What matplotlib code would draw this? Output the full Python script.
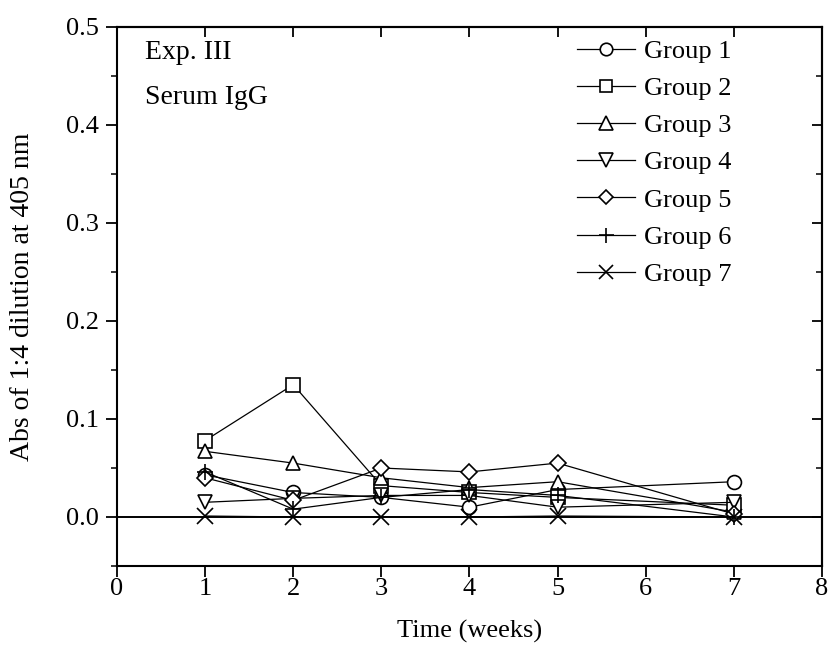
import matplotlib.pyplot as plt
import numpy as np

plt.rcParams['font.family'] = ['Liberation Serif', 'DejaVu Serif']

weeks = [1, 2, 3, 4, 5, 7]
group1 = [0.043, 0.025, 0.020, 0.010, 0.028, 0.036]
group2 = [0.078, 0.135, 0.032, 0.025, 0.020, 0.012]
group3 = [0.067, 0.055, 0.040, 0.030, 0.036, 0.005]
group4 = [0.015, 0.019, 0.022, 0.022, 0.010, 0.015]
group5 = [0.040, 0.017, 0.050, 0.046, 0.055, 0.003]
group6 = [0.046, 0.008, 0.020, 0.028, 0.022, 0.000]
group7 = [0.001, 0.000, 0.000, 0.000, 0.001, 0.000]

names = ['Group 1', 'Group 2', 'Group 3', 'Group 4', 'Group 5', 'Group 6', 'Group 7']
markers = ['o', 's', '^', 'v', 'D', '+', 'x']
sizes = [10, 9.5, 10.5, 10.5, 8, 12, 11]

fig = plt.figure(figsize=(8.29, 6.49), dpi=100)
ax = fig.add_axes([0.1411, 0.1279, 0.8504, 0.8305])

for vals, name, m, ms in zip([group1, group2, group3, group4, group5, group6, group7],
                             names, markers, sizes):
    ax.plot(weeks, vals, color='black', lw=0.9, marker=m, ms=ms,
            mfc='white', mec='black', mew=1.2, label=name)

ax.axhline(0, color='black', lw=1.4, zorder=0)

ax.set_xlim(0, 8)
ax.set_ylim(-0.05, 0.5)
ax.set_xticks(range(0, 9))
ax.set_yticks([0.0, 0.1, 0.2, 0.3, 0.4, 0.5])
ax.set_yticklabels(['0.0', '0.1', '0.2', '0.3', '0.4', '0.5'])
ax.set_yticks(np.arange(-0.05, 0.5, 0.1), minor=True)

ax.tick_params(axis='both', which='major', labelsize=19, direction='out', length=8, width=1.3,
               top=False, right=False)
ax.tick_params(axis='x', which='major', pad=1)
ax.tick_params(axis='y', which='major', pad=5)
ax.tick_params(axis='y', which='minor', direction='out', length=4, width=1.1)
ax.tick_params(axis='x', which='minor', bottom=False)

# inner ticks on the top and right spines
sec_x = ax.secondary_xaxis('top')
sec_x.set_xticks(range(1, 8))
sec_x.tick_params(direction='in', length=7, width=1.3, labeltop=False)
sec_y = ax.secondary_yaxis('right')
sec_y.set_yticks([0.0, 0.1, 0.2, 0.3, 0.4])
sec_y.set_yticks(np.arange(-0.05, 0.5, 0.1), minor=True)
sec_y.tick_params(which='major', direction='in', length=7, width=1.3, labelright=False)
sec_y.tick_params(which='minor', direction='in', length=4, width=1.1)

for s in ax.spines.values():
    s.set_linewidth(1.5)
for s in list(sec_x.spines.values()) + list(sec_y.spines.values()):
    s.set_linewidth(1.5)

ax.set_xlabel('Time (weeks)', fontsize=19, labelpad=14)
ax.set_ylabel('Abs of 1:4 dilution at 405 nm', fontsize=20, labelpad=22)

ax.text(0.04, 0.953, 'Exp. III', transform=ax.transAxes, fontsize=20, va='center')
ax.text(0.04, 0.870, 'Serum IgG', transform=ax.transAxes, fontsize=20, va='center')

ax.legend(loc='upper left', bbox_to_anchor=(0.652, 0.977), frameon=False, fontsize=19,
          handlelength=2.2, handletextpad=0.35, labelspacing=0.52, markerscale=0.9,
          borderaxespad=0, borderpad=0)

fig.savefig('out.png', dpi=100)
